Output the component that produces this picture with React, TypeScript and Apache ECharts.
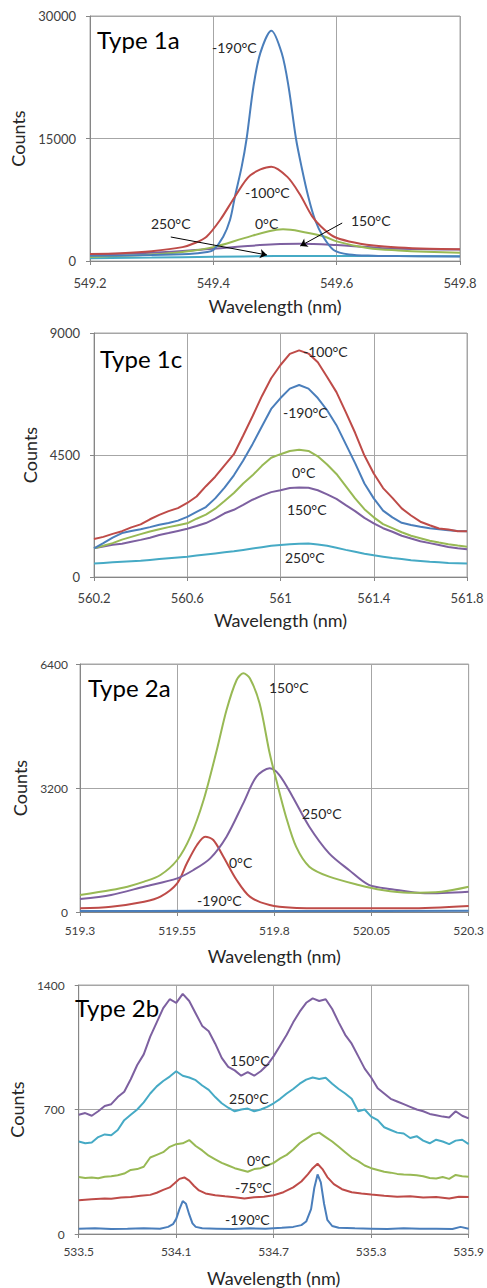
import React, { useEffect, useRef } from "react";
import * as echarts from "echarts";

// ---------- Panel 1: Type 1a ----------
const P1_BLUE_X = [549.2, 549.3, 549.36, 549.39, 549.4, 549.416, 549.427, 549.435, 549.446, 549.454, 549.465, 549.476, 549.494, 549.511, 549.522, 549.534, 549.543, 549.554, 549.565, 549.578, 549.595, 549.62, 549.66, 549.7, 549.8];
const P1_BLUE_Y = [650, 720, 850, 1100, 1350, 2980, 5020, 7870, 11550, 15000, 21340, 25430, 28200, 25430, 21340, 15000, 11550, 7870, 5020, 2980, 1350, 800, 650, 600, 560];
const P1_RED_X = [549.2, 549.25, 549.3, 549.35, 549.37, 549.389, 549.411, 549.435, 549.46, 549.494, 549.52, 549.54, 549.56, 549.575, 549.595, 549.62, 549.66, 549.7, 549.75, 549.8];
const P1_RED_Y = [850, 950, 1200, 1700, 2200, 2980, 5020, 7870, 10500, 11550, 10300, 8200, 5500, 4200, 3000, 2400, 1900, 1650, 1500, 1450];
const P1_GREEN_X = [549.2, 549.3, 549.35, 549.4, 549.45, 549.49, 549.513, 549.55, 549.58, 549.6, 549.65, 549.7, 549.8];
const P1_GREEN_Y = [500, 800, 1100, 1700, 2800, 3650, 3880, 3500, 3000, 2400, 1600, 1300, 1000];
const P1_PURPLE_X = [549.2, 549.3, 549.4, 549.45, 549.5, 549.54, 549.6, 549.65, 549.7, 549.8];
const P1_PURPLE_Y = [800, 1000, 1500, 1800, 2050, 2100, 1950, 1700, 1500, 1400];
const P1_CYAN_X = [549.2, 549.3, 549.4, 549.5, 549.6, 549.7, 549.8];
const P1_CYAN_Y = [350, 420, 520, 600, 620, 600, 580];
const P1_XTICKS = [549.2, 549.4, 549.6, 549.8];

// ---------- Panel 2: Type 1c ----------
const P2_X = [560.2, 560.24, 560.28, 560.32, 560.36, 560.4, 560.44, 560.48, 560.52, 560.56, 560.6, 560.64, 560.68, 560.72, 560.76, 560.8, 560.84, 560.88, 560.92, 560.96, 561.0, 561.04, 561.08, 561.12, 561.16, 561.2, 561.24, 561.28, 561.32, 561.36, 561.4, 561.44, 561.48, 561.52, 561.56, 561.6, 561.64, 561.68, 561.72, 561.76, 561.8];
const P2_RED = [1400, 1480, 1590, 1690, 1830, 1940, 2130, 2290, 2430, 2540, 2730, 2970, 3350, 3700, 4120, 4530, 5220, 5930, 6670, 7330, 7820, 8230, 8360, 8240, 7920, 7380, 6820, 6080, 5320, 4480, 3820, 3280, 2920, 2530, 2270, 2040, 1910, 1790, 1750, 1690, 1690];
const P2_BLUE = [1060, 1250, 1450, 1620, 1700, 1760, 1840, 1930, 1990, 2080, 2220, 2400, 2580, 2900, 3300, 3750, 4300, 4900, 5550, 6200, 6600, 6950, 7080, 6950, 6600, 6150, 5600, 4900, 4200, 3450, 2900, 2450, 2200, 2000, 1920, 1850, 1800, 1760, 1720, 1700, 1690];
const P2_GREEN = [1060, 1150, 1250, 1380, 1480, 1580, 1680, 1760, 1840, 1910, 1980, 2150, 2300, 2520, 2800, 3100, 3450, 3750, 4100, 4400, 4530, 4650, 4690, 4650, 4450, 4150, 3800, 3350, 2900, 2500, 2200, 1950, 1800, 1650, 1520, 1430, 1340, 1270, 1210, 1160, 1120];
const P2_PURPLE = [1060, 1120, 1190, 1230, 1300, 1370, 1450, 1550, 1620, 1700, 1780, 1880, 1990, 2150, 2350, 2480, 2660, 2850, 3000, 3130, 3200, 3280, 3300, 3290, 3200, 3050, 2880, 2650, 2430, 2180, 1980, 1800, 1670, 1520, 1420, 1320, 1250, 1180, 1110, 1060, 1020];
const P2_CYAN = [500, 520, 540, 560, 580, 600, 630, 660, 690, 720, 750, 790, 830, 870, 910, 950, 1000, 1050, 1100, 1150, 1180, 1210, 1230, 1240, 1200, 1150, 1080, 1000, 930, 860, 800, 750, 700, 660, 620, 590, 560, 540, 520, 510, 500];
const P2_XTICKS = [560.2, 560.6, 561, 561.4, 561.8];

// ---------- Panel 3: Type 2a ----------
const P3_GREEN_X = [519.3, 519.38, 519.422, 519.465, 519.507, 519.55, 519.584, 519.618, 519.652, 519.677, 519.703, 519.72, 519.737, 519.762, 519.788, 519.805, 519.83, 519.856, 519.89, 519.941, 520.017, 520.077, 520.145, 520.23, 520.3];
const P3_GREEN_Y = [439, 568, 654, 783, 955, 1342, 1944, 2890, 4181, 5213, 5987, 6159, 6030, 5385, 4095, 3406, 2460, 1686, 1170, 912, 697, 568, 499, 525, 654];
const P3_PURPLE_X = [519.3, 519.38, 519.465, 519.55, 519.592, 519.635, 519.677, 519.72, 519.754, 519.788, 519.813, 519.847, 519.89, 519.941, 519.992, 520.043, 520.102, 520.187, 520.3];
const P3_PURPLE_Y = [335, 439, 654, 869, 1084, 1385, 1944, 2804, 3492, 3707, 3535, 2976, 2202, 1514, 1084, 700, 590, 482, 525];
const P3_RED_X = [519.3, 519.38, 519.465, 519.507, 519.55, 519.575, 519.601, 519.622, 519.643, 519.669, 519.703, 519.737, 519.788, 519.847, 519.975, 520.145, 520.3];
const P3_RED_Y = [95, 138, 267, 396, 740, 1256, 1729, 1944, 1858, 1428, 826, 396, 181, 112, 95, 95, 155];
const P3_BLUE_X = [519.3, 519.6, 519.9, 520.3];
const P3_BLUE_Y = [25, 30, 25, 30];
const P3_XTICKS = [519.3, 519.55, 519.8, 520.05, 520.3];

// ---------- Panel 4: Type 2b ----------
const P4_X = [533.5, 533.54, 533.58, 533.62, 533.66, 533.7, 533.74, 533.78, 533.82, 533.86, 533.9, 533.94, 533.98, 534.02, 534.06, 534.1, 534.14, 534.18, 534.22, 534.26, 534.3, 534.34, 534.38, 534.42, 534.46, 534.5, 534.54, 534.58, 534.62, 534.66, 534.7, 534.74, 534.78, 534.82, 534.86, 534.9, 534.94, 534.98, 535.02, 535.06, 535.1, 535.14, 535.18, 535.22, 535.26, 535.3, 535.34, 535.38, 535.42, 535.46, 535.5, 535.54, 535.58, 535.62, 535.66, 535.7, 535.74, 535.78, 535.82, 535.86, 535.9];
const P4_PURPLE = [670, 680, 665, 690, 720, 730, 770, 800, 870, 950, 1010, 1110, 1190, 1270, 1320, 1300, 1350, 1310, 1240, 1170, 1140, 1070, 990, 940, 920, 890, 910, 890, 915, 950, 1000, 1060, 1120, 1190, 1250, 1300, 1325, 1310, 1320, 1265, 1190, 1120, 1070, 1000, 930, 880, 820, 790, 760, 745, 730, 715, 700, 690, 675, 668, 660, 655, 690, 665, 650];
const P4_CYAN = [520, 510, 515, 545, 560, 555, 585, 640, 670, 700, 740, 790, 830, 860, 885, 915, 890, 880, 865, 835, 810, 770, 735, 710, 690, 700, 705, 690, 700, 715, 735, 760, 790, 815, 845, 868, 880, 872, 878, 845, 815, 790, 760, 690, 700, 660, 640, 600, 585, 570, 565, 540, 550, 525, 510, 530, 520, 505, 525, 530, 505];
const P4_GREEN = [320, 315, 318, 313, 322, 325, 330, 340, 360, 365, 378, 430, 445, 460, 490, 505, 510, 528, 495, 470, 440, 420, 400, 385, 370, 360, 350, 365, 370, 385, 400, 425, 445, 475, 510, 535, 560, 570, 545, 520, 490, 460, 430, 410, 385, 370, 360, 350, 345, 338, 335, 333, 330, 325, 315, 312, 320, 310, 332, 325, 322];
const P4_RED_X = [533.5, 533.58, 533.66, 533.7, 533.76, 533.82, 533.88, 533.94, 533.98, 534.02, 534.06, 534.09, 534.12, 534.15, 534.18, 534.21, 534.24, 534.28, 534.34, 534.4, 534.46, 534.52, 534.58, 534.64, 534.7, 534.76, 534.82, 534.87, 534.91, 534.94, 534.97, 535.0, 535.03, 535.07, 535.12, 535.18, 535.24, 535.3, 535.38, 535.46, 535.54, 535.62, 535.7, 535.78, 535.84, 535.9];
const P4_RED_Y = [190, 195, 200, 198, 205, 208, 215, 220, 232, 248, 262, 285, 310, 318, 300, 270, 245, 228, 218, 212, 207, 200, 206, 210, 218, 235, 262, 295, 335, 370, 395, 365, 320, 280, 252, 235, 228, 222, 215, 210, 212, 205, 208, 200, 210, 208];
const P4_BLUE_X = [533.5, 533.6, 533.7, 533.8, 533.9, 534.0, 534.05, 534.08, 534.1, 534.12, 534.14, 534.16, 534.18, 534.2, 534.22, 534.26, 534.35, 534.45, 534.55, 534.65, 534.75, 534.82, 534.87, 534.9, 534.93, 534.95, 534.97, 534.99, 535.01, 535.03, 535.06, 535.1, 535.2, 535.3, 535.4, 535.5, 535.6, 535.7, 535.8, 535.85, 535.9];
const P4_BLUE_Y = [30, 32, 28, 30, 33, 30, 40, 55, 85, 140, 185, 170, 110, 60, 40, 32, 30, 28, 32, 30, 35, 40, 50, 70, 140, 260, 335, 290, 170, 80, 45, 35, 32, 30, 28, 32, 30, 30, 28, 40, 30];
const P4_XTICKS = [533.5, 534.1, 534.7, 535.3, 535.9];

// Arrow annotations in panel 1 (data coordinates)
const P1_ARROWS = [
  [[549.331, 2939], [549.487, 735]],
  [[549.609, 4653], [549.541, 1837]],
];

const BLUE = "#4A7EBB";
const RED = "#BE4B48";
const GREEN = "#98B954";
const PURPLE = "#7D60A0";
const CYAN = "#46AAC5";
const FONT = "Lato";

const zip = (xs: number[], ys: number[]) => xs.map((x, i) => [x, ys[i]]);

function App() {
  const ref = useRef<HTMLDivElement>(null);
  useEffect(() => {
    if (!ref.current) return;
    const chart = echarts.init(ref.current, undefined, { renderer: "svg" });

    const grids = [
      { left: 90, top: 16, width: 370, height: 245 },
      { left: 94, top: 333, width: 373, height: 244 },
      { left: 80, top: 664, width: 392, height: 248 },
      { left: 77, top: 985, width: 393, height: 249 },
    ].map((g) => ({ ...g, show: true, borderColor: "#a6a6a6", borderWidth: 1 }));

    const xAx = (gi: number, min: number, max: number, ticks: number[], fs: number, margin: number, nameGap: number) => ({
      type: "value",
      gridIndex: gi,
      min,
      max,
      axisLine: { show: true, onZero: false, lineStyle: { color: "#868686" } },
      axisTick: { show: true, length: 4, customValues: ticks, lineStyle: { color: "#868686" } },
      axisLabel: { customValues: ticks, fontSize: fs, color: "#404040", margin, fontFamily: FONT, formatter: (v: number) => String(v) },
      splitLine: { show: true, lineStyle: { color: "#a6a6a6", width: 1 } },
      name: "Wavelength (nm)",
      nameLocation: "middle",
      nameGap,
      nameTextStyle: { fontSize: 18, color: "#262626", fontFamily: FONT },
    });
    const yAx = (gi: number, max: number, interval: number, fs: number, margin: number, nameGap: number) => ({
      type: "value",
      gridIndex: gi,
      min: 0,
      max,
      interval,
      axisLine: { show: true, lineStyle: { color: "#868686" } },
      axisTick: { show: true, length: 4, lineStyle: { color: "#868686" } },
      axisLabel: { fontSize: fs, color: "#404040", margin, fontFamily: FONT, formatter: (v: number) => String(v) },
      splitLine: { show: true, lineStyle: { color: "#a6a6a6", width: 1 } },
      name: "Counts",
      nameLocation: "middle",
      nameGap,
      nameTextStyle: { fontSize: 18, color: "#262626", fontFamily: FONT },
    });

    const line = (gi: number, data: number[][], color: string, smooth: number | boolean, width = 2, extra: any = {}) => ({
      type: "line",
      xAxisIndex: gi,
      yAxisIndex: gi,
      data,
      showSymbol: false,
      symbol: "none",
      smooth,
      lineStyle: { color, width },
      itemStyle: { color },
      silent: true,
      ...extra,
    });

    const texts: [string, number, number, number][] = [
      ["Type 1a", 97, 39, 24],
      ["-190°C", 212, 47, 14],
      ["-100°C", 245, 192, 14],
      ["0°C", 255, 223, 14],
      ["250°C", 151, 223, 14],
      ["150°C", 351, 220, 14],
      ["Type 1c", 100, 358, 24],
      ["-100°C", 303, 351, 14],
      ["-190°C", 283, 412, 14],
      ["0°C", 292, 472, 14],
      ["150°C", 287, 509, 14],
      ["250°C", 285, 557, 14],
      ["Type 2a", 88, 687, 24],
      ["150°C", 269, 687, 14],
      ["250°C", 302, 813, 14],
      ["0°C", 229, 862, 14],
      ["-190°C", 197, 900, 14],
      ["Type 2b", 75, 1007, 24],
      ["150°C", 230, 1060, 14],
      ["250°C", 229, 1098, 14],
      ["0°C", 247, 1160, 14],
      ["-75°C", 235, 1187, 14],
      ["-190°C", 225, 1219, 14],
    ];

    const option: any = {
      animation: false,
      backgroundColor: "#ffffff",
      textStyle: { fontFamily: FONT },
      grid: grids,
      xAxis: [
        xAx(0, 549.2, 549.8, P1_XTICKS, 13, 15, 36),
        xAx(1, 560.2, 561.8, P2_XTICKS, 13, 14, 34),
        xAx(2, 519.3, 520.3, P3_XTICKS, 12, 12, 35),
        xAx(3, 533.5, 535.9, P4_XTICKS, 12, 11, 35),
      ],
      yAxis: [
        yAx(0, 30000, 15000, 13, 14, 62),
        yAx(1, 9000, 4500, 13, 14, 53),
        yAx(2, 6400, 3200, 12, 12, 51),
        yAx(3, 1400, 700, 12, 14, 41),
      ],
      series: [
        line(0, zip(P1_CYAN_X, P1_CYAN_Y), CYAN, 0.4, 2, {
          markLine: {
            silent: true,
            symbol: ["none", "arrow"],
            symbolSize: 7,
            label: { show: false },
            lineStyle: { color: "#000", width: 1, type: "solid" },
            data: P1_ARROWS.map((a) => [{ coord: a[0] }, { coord: a[1] }]),
          },
        }),
        line(0, zip(P1_PURPLE_X, P1_PURPLE_Y), PURPLE, 0.4),
        line(0, zip(P1_GREEN_X, P1_GREEN_Y), GREEN, 0.4),
        line(0, zip(P1_BLUE_X, P1_BLUE_Y), BLUE, 0.3),
        line(0, zip(P1_RED_X, P1_RED_Y), RED, 0.3),

        line(1, zip(P2_X, P2_CYAN), CYAN, false),
        line(1, zip(P2_X, P2_PURPLE), PURPLE, false),
        line(1, zip(P2_X, P2_GREEN), GREEN, false),
        line(1, zip(P2_X, P2_BLUE), BLUE, false),
        line(1, zip(P2_X, P2_RED), RED, false),

        line(2, zip(P3_BLUE_X, P3_BLUE_Y), BLUE, 0.3),
        line(2, zip(P3_RED_X, P3_RED_Y), RED, 0.3),
        line(2, zip(P3_PURPLE_X, P3_PURPLE_Y), PURPLE, 0.3),
        line(2, zip(P3_GREEN_X, P3_GREEN_Y), GREEN, 0.3),

        line(3, zip(P4_BLUE_X, P4_BLUE_Y), BLUE, false, 2),
        line(3, zip(P4_RED_X, P4_RED_Y), RED, false, 2),
        line(3, zip(P4_X, P4_GREEN), GREEN, false, 2),
        line(3, zip(P4_X, P4_CYAN), CYAN, false, 2),
        line(3, zip(P4_X, P4_PURPLE), PURPLE, false, 2),
      ],
      graphic: texts.map(([t, x, y, fs]) => ({
        type: "text",
        x,
        y,
        z: 100,
        style: {
          text: t,
          fontSize: fs,
          fontFamily: FONT,
          fill: fs > 20 ? "#000000" : "#262626",
          textAlign: "left",
          textVerticalAlign: "middle",
        },
      })),
    };
    chart.setOption(option);
    return () => chart.dispose();
  }, []);
  return (
    <div
      ref={ref}
      style={{ position: "absolute", left: 0, top: 0, width: 487, height: 1288, background: "#fff" }}
    />
  );
}

export default App;
